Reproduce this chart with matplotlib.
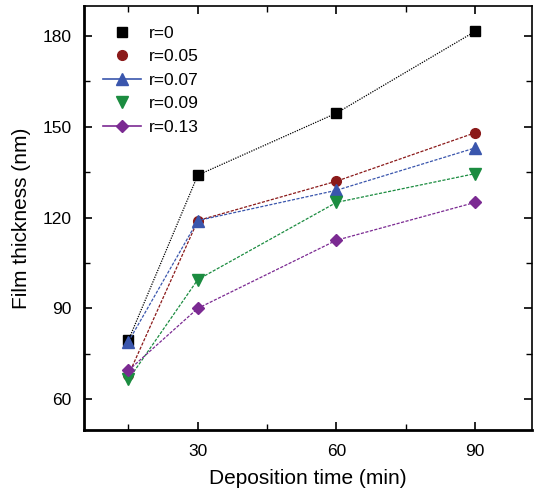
import matplotlib.pyplot as plt
from matplotlib.lines import Line2D
from matplotlib.ticker import MultipleLocator

plt.rcParams['font.family'] = ['Liberation Sans', 'DejaVu Sans']

# Данные
time_min = [15, 30, 60, 90]
labels = ['r=0', 'r=0.05', 'r=0.07', 'r=0.09', 'r=0.13']
thickness_r0 = [79.5, 134, 154.5, 181.5]
thickness_r005 = [68, 119, 132, 148]
thickness_r007 = [79, 119, 129, 143]
thickness_r009 = [66.5, 99.5, 125, 134.5]
thickness_r013 = [69.5, 90, 112.5, 125]

series = [thickness_r0, thickness_r005, thickness_r007, thickness_r009, thickness_r013]
colors = ['#000000', '#8b1a1a', '#3a56ad', '#1b8c40', '#7b2a92']
markers = ['s', 'o', '^', 'v', 'D']
sizes = [6.5, 7, 8, 8, 6.5]
styles = [(0, (1, 1)), (0, (2.5, 1.2)), (0, (2.5, 1.2)), (0, (2.5, 1.2)), (0, (2.5, 1.2))]
legend_has_line = [False, False, True, False, True]

fig = plt.figure(figsize=(5.39, 4.96), dpi=100)
ax = fig.add_axes([0.156, 0.133, 0.831, 0.855])

for values, color, marker, size, style in zip(series, colors, markers, sizes, styles):
    ax.plot(time_min, values, color=color, marker=marker, markersize=size,
            linestyle=style, linewidth=0.9)

# Легенда (как в оригинале: у части серий линия в легенде есть)
handles = []
for label, color, marker, size, has_line in zip(labels, colors, markers, sizes, legend_has_line):
    handles.append(Line2D([], [], color=color, marker=marker, markersize=size,
                          linestyle='-' if has_line else 'none', linewidth=1.2, label=label))
ax.legend(handles=handles, loc='upper left', frameon=False, fontsize=12.5,
          handlelength=2.2, handletextpad=0.45, labelspacing=0.48,
          bbox_to_anchor=(0.008, 0.99))

ax.set_xlim(5.4, 102.3)
ax.set_ylim(49.8, 189.9)
ax.set_xticks([30, 60, 90])
ax.set_yticks([60, 90, 120, 150, 180])
ax.xaxis.set_minor_locator(MultipleLocator(15))
ax.yaxis.set_minor_locator(MultipleLocator(15))
ax.tick_params(which='both', direction='in', top=True, right=True, labelsize=12.5)
ax.tick_params(which='major', length=6, width=1.2)
ax.tick_params(which='minor', length=4, width=1)
ax.tick_params(axis='x', which='major', pad=10)
ax.tick_params(axis='y', which='major', pad=9)

for side in ['left', 'bottom']:
    ax.spines[side].set_linewidth(2)
for side in ['top', 'right']:
    ax.spines[side].set_linewidth(1.2)

ax.set_xlabel('Deposition time (min)', fontsize=15, labelpad=7)
ax.set_ylabel('Film thickness (nm)', fontsize=15, labelpad=8)

fig.savefig('out.png', dpi=100)
